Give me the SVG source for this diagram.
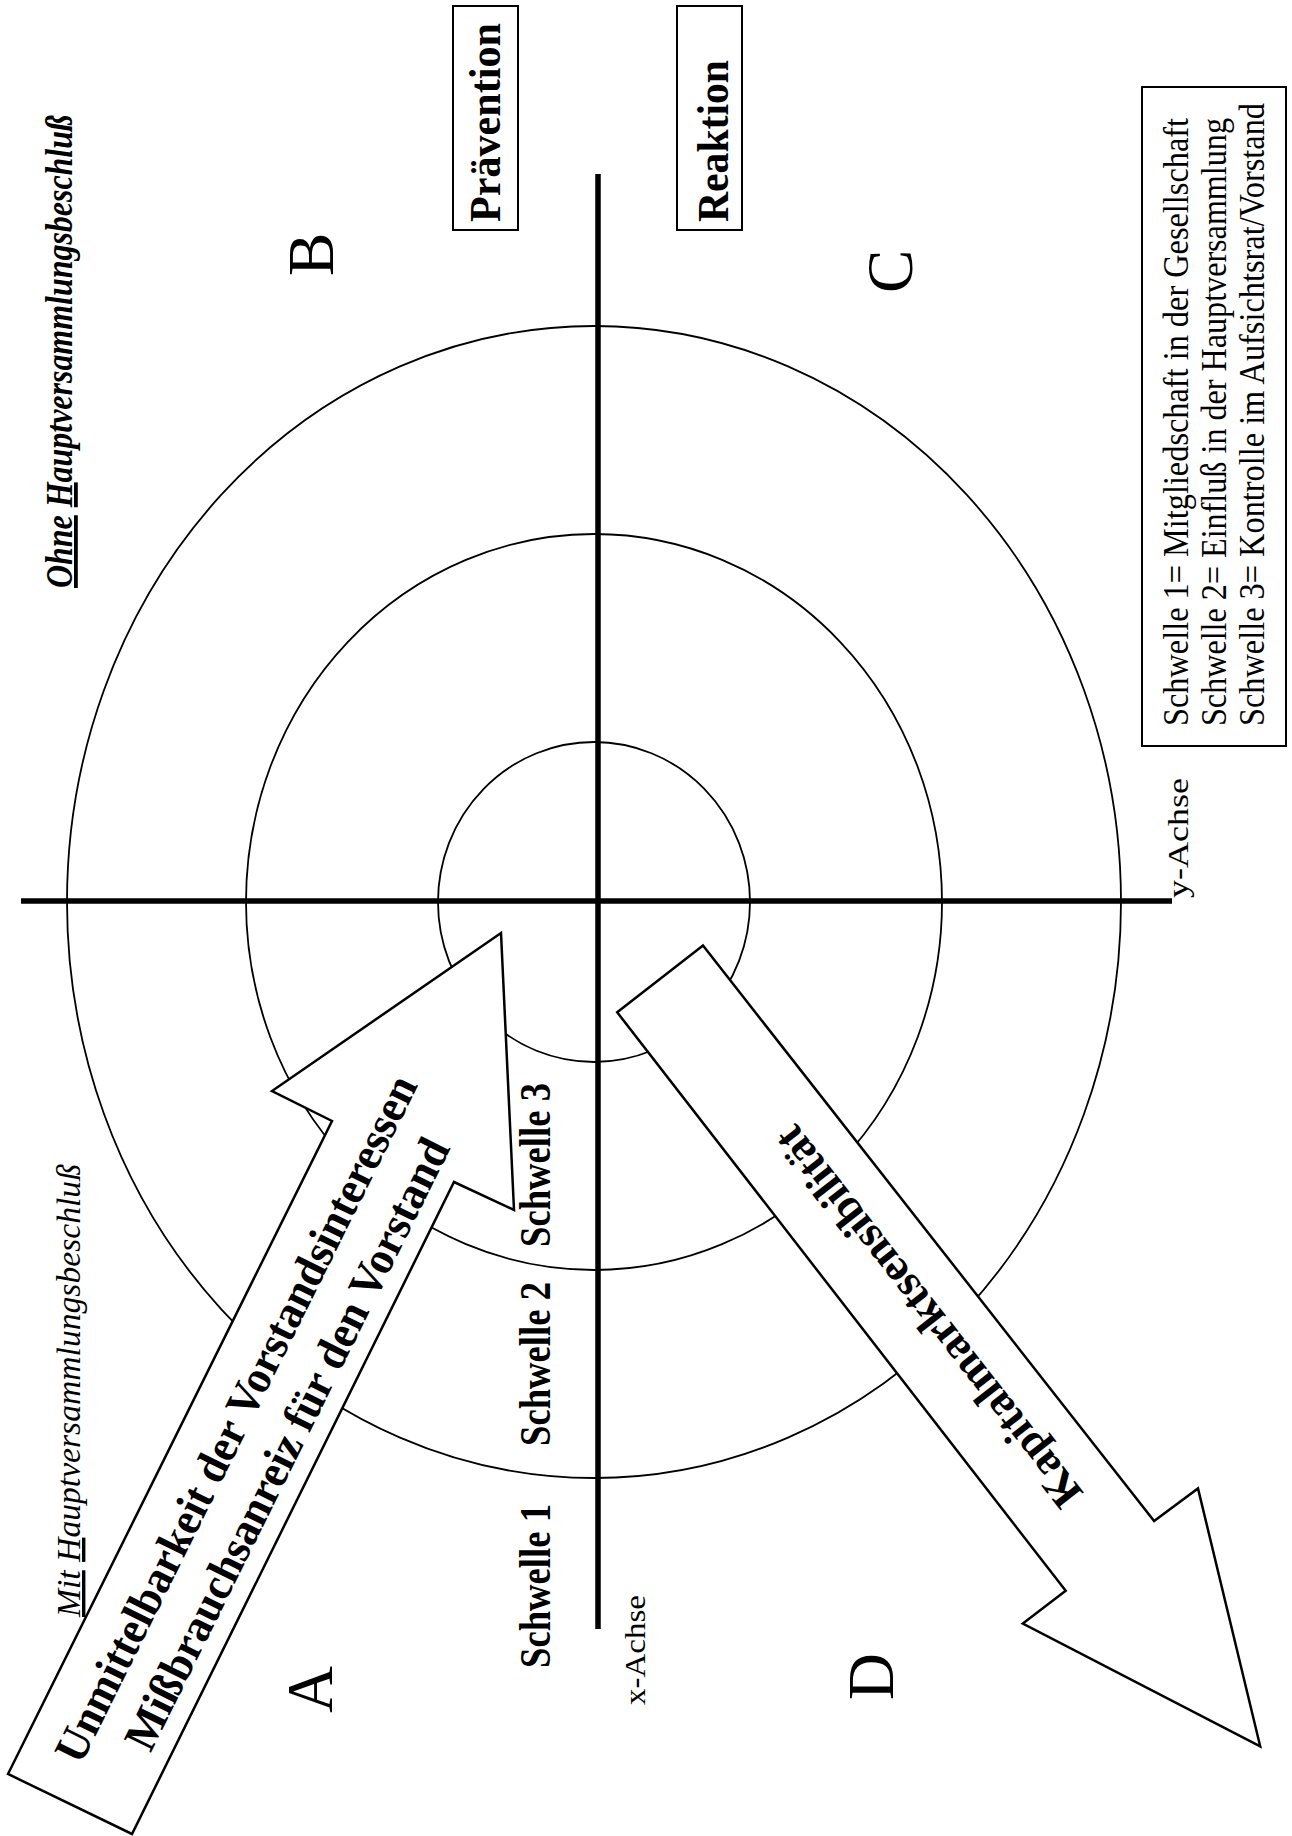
<svg xmlns="http://www.w3.org/2000/svg" width="1292" height="1836" viewBox="0 0 1292 1836" font-family="'Liberation Serif','Times New Roman',serif">
<style>
text{font-family:"Liberation Serif","Times New Roman",serif;fill:#000}
.b{font-weight:bold}
.i{font-style:italic}
.ring{fill:none;stroke:#000;stroke-width:1.8}
.axis{stroke:#000;stroke-width:5.5;fill:none}
.box{fill:#fff;stroke:#000;stroke-width:2}
.arrow{fill:#fff;stroke:#000;stroke-width:2.5;stroke-linejoin:miter}
.u{text-decoration:underline}
</style>
<rect width="1292" height="1836" fill="#fff"/>
<g id="rings">
<ellipse class="ring" cx="594" cy="902" rx="527" ry="576"/>
<ellipse class="ring" cx="594" cy="902" rx="348" ry="368"/>
<ellipse class="ring" cx="594" cy="902" rx="156" ry="160"/>
</g>
<g id="connectors">
<line class="axis" x1="598" y1="174" x2="598" y2="1629"/>
<line class="axis" x1="21" y1="901" x2="1172" y2="901"/>
</g>
<g id="arrow-unmittelbarkeit">
<polygon class="arrow" points="8,1774 332,1121 272,1091 501,933 514,1210 454,1182 132,1834"/>
<text class="b" font-size="46" text-anchor="middle" textLength="760" lengthAdjust="spacingAndGlyphs" transform="translate(249.5,1425.4) rotate(-63.62)">Unmittelbarkeit der Vorstandsinteressen</text>
<text class="b" font-size="46" text-anchor="middle" textLength="676" lengthAdjust="spacingAndGlyphs" transform="translate(300.6,1450.7) rotate(-63.62)">Mißbrauchsanreiz für den Vorstand</text>
</g>
<g id="arrow-kapitalmarkt">
<polygon class="arrow" points="703,945.6 1154.1,1521.1 1198,1488.4 1260.2,1746.3 1022.8,1623.6 1065.7,1590.8 617.2,1012.3"/>
<text class="b" font-size="45" text-anchor="middle" textLength="470" lengthAdjust="spacingAndGlyphs" transform="translate(939.8,1307.6) rotate(-127.95)">Kapitalmarktsensibilität</text>
</g>
<g id="label-ohne">
<text class="b i" font-size="38" textLength="473" lengthAdjust="spacingAndGlyphs" transform="translate(72,588) rotate(-90)"><tspan class="u">Ohne</tspan> <tspan class="u">H</tspan>auptversammlungsbeschluß</text>
</g>
<g id="label-mit">
<text class="i" font-size="34" textLength="453" lengthAdjust="spacingAndGlyphs" transform="translate(80,1617) rotate(-90)"><tspan class="u">Mit</tspan> <tspan class="u">H</tspan>auptversammlungsbeschluß</text>
</g>
<g id="box-praevention">
<rect class="box" x="453" y="6" width="65" height="224"/>
<text class="b" font-size="44" textLength="199" lengthAdjust="spacingAndGlyphs" transform="translate(500,222) rotate(-90)">Prävention</text>
</g>
<g id="box-reaktion">
<rect class="box" x="677" y="6" width="65" height="224"/>
<text class="b" font-size="44" textLength="162" lengthAdjust="spacingAndGlyphs" transform="translate(728,222) rotate(-90)">Reaktion</text>
</g>
<g id="quadrant-A"><text font-size="65" transform="translate(332,1713) rotate(-90)">A</text></g>
<g id="quadrant-B"><text font-size="65" transform="translate(333,276) rotate(-90)">B</text></g>
<g id="quadrant-C"><text font-size="65" transform="translate(912,293) rotate(-90)">C</text></g>
<g id="quadrant-D"><text font-size="65" transform="translate(893,1700) rotate(-90)">D</text></g>
<g id="schwellen">
<text class="b" font-size="44" textLength="164" lengthAdjust="spacingAndGlyphs" transform="translate(550,1668) rotate(-90)">Schwelle 1</text>
<text class="b" font-size="44" textLength="164" lengthAdjust="spacingAndGlyphs" transform="translate(550,1446) rotate(-90)">Schwelle 2</text>
<text class="b" font-size="44" textLength="164" lengthAdjust="spacingAndGlyphs" transform="translate(550,1247) rotate(-90)">Schwelle 3</text>
</g>
<g id="axis-labels">
<text font-size="30" textLength="110" lengthAdjust="spacingAndGlyphs" transform="translate(645,1705) rotate(-90)">x-Achse</text>
<text font-size="30" textLength="120" lengthAdjust="spacingAndGlyphs" transform="translate(1188,898) rotate(-90)">y-Achse</text>
</g>
<g id="legend">
<rect class="box" x="1142" y="87" width="144" height="659"/>
<text font-size="35" textLength="608" lengthAdjust="spacingAndGlyphs" transform="translate(1188,726) rotate(-90)">Schwelle 1= Mitgliedschaft in der Gesellschaft</text>
<text font-size="35" textLength="608" lengthAdjust="spacingAndGlyphs" transform="translate(1226,726) rotate(-90)">Schwelle 2= Einfluß in der Hauptversammlung</text>
<text font-size="35" textLength="623" lengthAdjust="spacingAndGlyphs" transform="translate(1264,726) rotate(-90)">Schwelle 3= Kontrolle im Aufsichtsrat/Vorstand</text>
</g>
</svg>
